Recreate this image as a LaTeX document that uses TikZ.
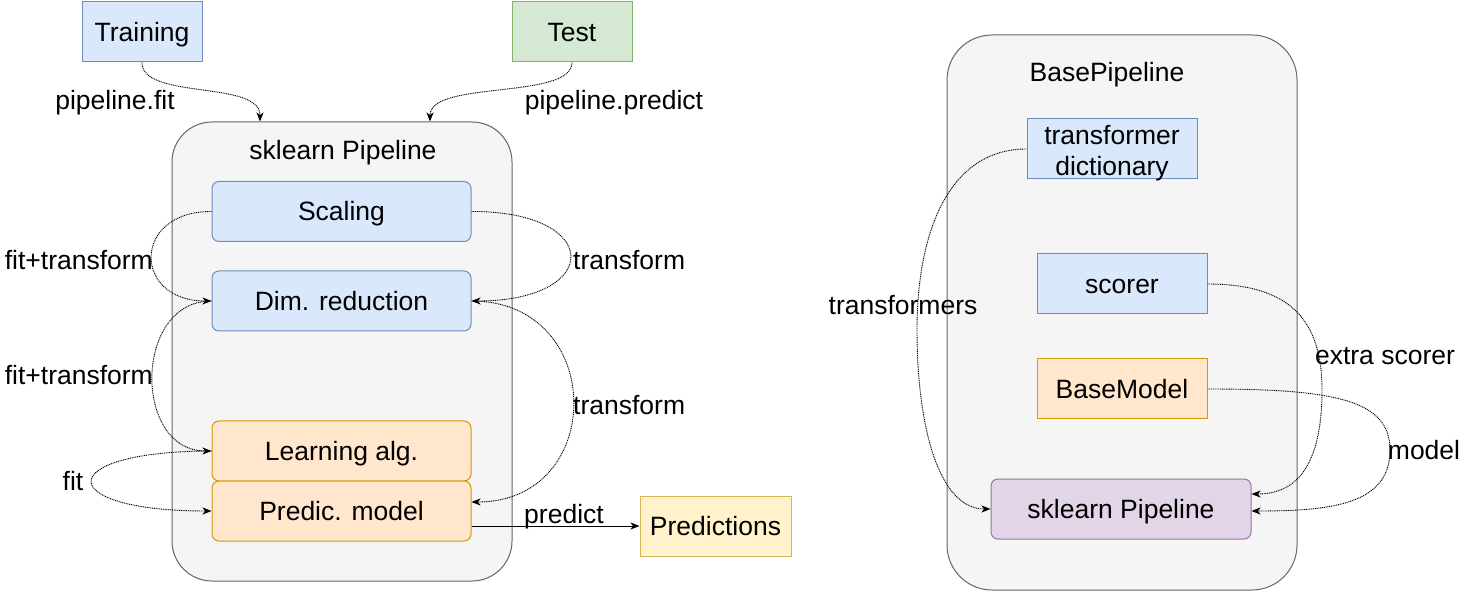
\documentclass[tikz,border=0pt]{standalone}
\usepackage{fontspec}
\setmainfont{Liberation Sans}
\usetikzlibrary{arrows.meta}
\definecolor{bluefill}{HTML}{DAE8FC}\definecolor{bluedraw}{HTML}{6C8EBF}
\definecolor{greenfill}{HTML}{D5E8D4}\definecolor{greendraw}{HTML}{82B366}
\definecolor{orangefill}{HTML}{FFE6CC}\definecolor{orangedraw}{HTML}{D79B00}
\definecolor{yellowfill}{HTML}{FFF2CC}\definecolor{yellowdraw}{HTML}{D6B656}
\definecolor{purplefill}{HTML}{E1D5E7}\definecolor{purpledraw}{HTML}{9673A6}
\definecolor{contfill}{HTML}{F5F5F5}\definecolor{contdraw}{HTML}{666666}
\tikzset{
  txt/.style={font=\fontsize{26.5}{31}\selectfont, inner sep=0pt, align=center, text height=22pt, text depth=3pt},
  box/.style={txt, rectangle, line width=1pt, minimum width=#1, minimum height=60pt},
  bluebox/.style={box=#1, fill=bluefill, draw=bluedraw},
  greenbox/.style={box=#1, fill=greenfill, draw=greendraw},
  orangebox/.style={box=#1, fill=orangefill, draw=orangedraw},
  yellowbox/.style={box=#1, fill=yellowfill, draw=yellowdraw},
  purplebox/.style={box=#1, fill=purplefill, draw=purpledraw},
  cont/.style={rectangle, fill=contfill, draw=contdraw, line width=1pt},
  conn/.style={line width=0.9pt, dash pattern=on 1pt off 0.8pt, -{Stealth[length=9pt,width=7pt,inset=2.5pt]}},
  solidconn/.style={line width=0.9pt, -{Stealth[length=9pt,width=7pt,inset=2.5pt]}},
  lbl/.style={txt},
  twoline/.style={font=\fontsize{26.5}{31}\selectfont, inner sep=0pt, align=center, text height=, text depth=, yshift=-4pt}
}
\begin{document}
\begin{tikzpicture}[x=1pt,y=-1pt]
\useasboundingbox (0,0) rectangle (1478,593);
% left containers
\node[cont, minimum width=340pt, minimum height=459pt, rounded corners=40pt] (lc) at (342,351.5) {};
\node[lbl] (t1) at (343,150) {sklearn Pipeline};
\node[bluebox=120pt] (tr) at (142,32) {Training};
\node[greenbox=120pt] (te) at (572,32) {Test};
\node[bluebox=259pt, rounded corners=7pt] (sc) at (341.5,211.5) {Scaling};
\node[bluebox=259pt, rounded corners=7pt] (dr) at (341.5,301) {Dim. reduction};
\node[orangebox=259pt, rounded corners=7pt] (la) at (341.5,451) {Learning alg.};
\node[orangebox=259pt, rounded corners=7pt] (pm) at (341.5,511) {Predic. model};
\node[yellowbox=151pt] (pred) at (715.5,526) {Predictions};
% right container
\node[cont, minimum width=350pt, minimum height=555pt, rounded corners=45pt] (rc) at (1122,312.5) {};
\node[lbl] (t2) at (1107,72) {BasePipeline};
\node[bluebox=170pt, label={[twoline]center:{transformer\\dictionary}}] (td) at (1112,149) {};
\node[bluebox=170pt] (scr) at (1122,284) {scorer};
\node[orangebox=170pt] (bm) at (1122,389) {BaseModel};
\node[purplebox=260pt, rounded corners=7pt] (sk) at (1121,509) {sklearn Pipeline};
% labels
\node[lbl] (l1) at (115,100) {pipeline.fit};
\node[lbl] (l2) at (614,100) {pipeline.predict};
\node[lbl, anchor=east] (l3) at (153,260) {fit+transform};
\node[lbl, anchor=west] (l4) at (573,260) {transform};
\node[lbl, anchor=east] (l5) at (153,375) {fit+transform};
\node[lbl, anchor=west] (l6) at (573,405) {transform};
\node[lbl] (l7) at (73,481) {fit};
\node[lbl] (l8) at (564,514) {predict};
\node[lbl] (l9) at (903,305) {transformers};
\node[lbl] (l10) at (1385,355) {extra scorer};
\node[lbl] (l11) at (1424,450) {model};
% left connectors
\draw[conn] (tr.south) .. controls (142,100) and (260,80) .. ([xshift=-82pt]lc.north);
\draw[conn] (te.south) .. controls (572,100) and (430,80) .. ([xshift=88pt]lc.north);
\draw[conn] (sc.west) .. controls (132,211) and (132,301) .. (dr.west);
\draw[conn] (sc.east) .. controls (603,211) and (603,301) .. (dr.east);
\draw[conn] (dr.west) .. controls (133,301) and (133,451) .. (la.west);
\draw[conn] (dr.east) .. controls (607,301) and (607,502) .. ([yshift=9pt]pm.east);
\draw[conn] (la.west) .. controls (52,451) and (52,511) .. (pm.west);
\draw[solidconn] ([yshift=-15pt]pm.east) -- (pred.west);
% right connectors
\draw[conn] (td.west) .. controls (950,149) and (917,230) .. (917,330) .. controls (917,430) and (940,509) .. (sk.west);
\draw[conn] (scr.east) .. controls (1290,284) and (1322,320) .. (1322,390) .. controls (1322,460) and (1300,494) .. ([yshift=15pt]sk.east);
\draw[conn] (bm.east) .. controls (1335,389) and (1390,400) .. (1390,450) .. controls (1390,505) and (1330,511) .. ([yshift=-2pt]sk.east);
\end{tikzpicture}
\end{document}
